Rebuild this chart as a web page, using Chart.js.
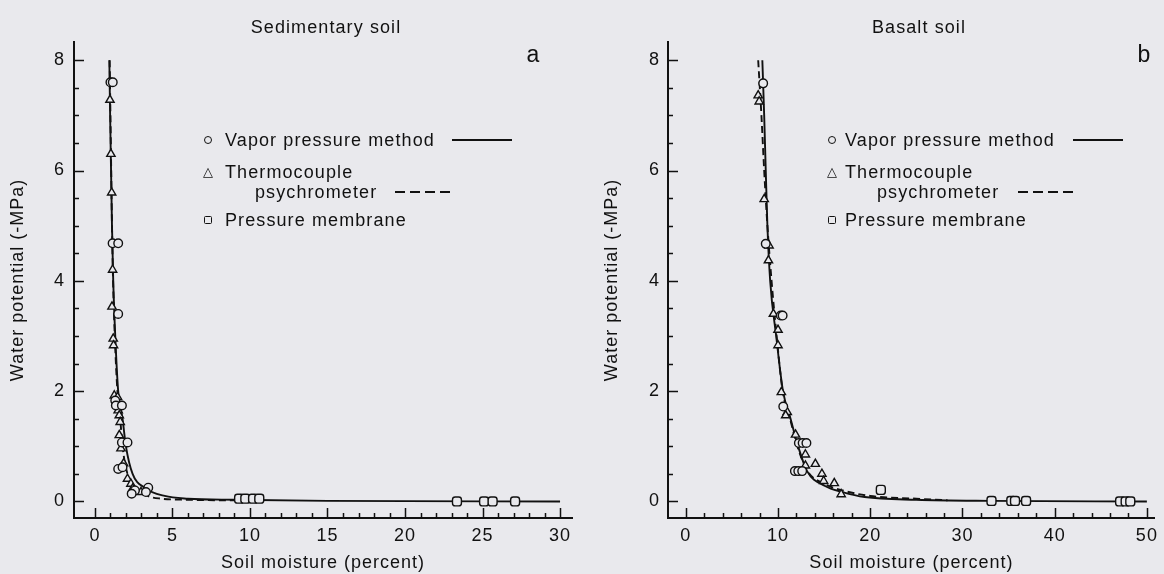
<!DOCTYPE html>
<html>
<head>
<meta charset="utf-8">
<script src="https://cdn.jsdelivr.net/npm/chart.js@4"></script>
<style>
  html, body { margin: 0; padding: 0; background: #e9e9ed; }
  #wrap { position: relative; width: 1164px; height: 574px; overflow: hidden; font-family: "Liberation Sans", Arial, sans-serif; color: #111; }
  canvas { position: absolute; top: 0; }
  .t { position: absolute; white-space: nowrap; letter-spacing: 1.1px; font-size: 18px; line-height: 1; transform: translateY(-50%); }
  .c { transform: translate(-50%, -50%); }
  .panel { font-size: 23px; letter-spacing: 0; }
  .sym { position: absolute; transform: translate(-50%, -50%); box-sizing: border-box; }
  .circ { width: 8px; height: 8px; border: 1.5px solid #111; border-radius: 50%; }
  .sq { width: 8px; height: 8px; border: 1.5px solid #111; border-radius: 1.5px; }
  .tri { font-family: "DejaVu Sans"; font-size: 13px; line-height: 1; }
  .ln { position: absolute; height: 2px; background: #111; transform: translateY(-50%); }
  .dash { background: repeating-linear-gradient(to right, #111 0 10px, transparent 10px 15px); }
</style>
</head>
<body>
<div id="wrap">
  <canvas id="sed" width="582" height="574" style="left:0"></canvas>
  <canvas id="bas" width="582" height="574" style="left:582px"></canvas>

  <div class="t c" style="left:326px; top:27px">Sedimentary soil</div>
  <div class="t c panel" style="left:533px; top:54px">a</div>
  <div class="t c" style="left:919px; top:27px">Basalt soil</div>
  <div class="t c panel" style="left:1144px; top:54px">b</div>

  <div class="sym circ" style="left:208px; top:140px"></div>
  <div class="t" style="left:225px; top:140px">Vapor pressure method</div>
  <div class="ln" style="left:452px; width:60px; top:140px"></div>
  <div class="sym tri" style="left:208px; top:171px">△</div>
  <div class="t" style="left:225px; top:172px">Thermocouple</div>
  <div class="t" style="left:255px; top:192px">psychrometer</div>
  <div class="ln dash" style="left:395px; width:55px; top:192px"></div>
  <div class="sym sq" style="left:208px; top:220px"></div>
  <div class="t" style="left:225px; top:220px">Pressure membrane</div>

  <div class="sym circ" style="left:832px; top:140px"></div>
  <div class="t" style="left:845px; top:140px">Vapor pressure method</div>
  <div class="ln" style="left:1073px; width:50px; top:140px"></div>
  <div class="sym tri" style="left:832px; top:171px">△</div>
  <div class="t" style="left:845px; top:172px">Thermocouple</div>
  <div class="t" style="left:877px; top:192px">psychrometer</div>
  <div class="ln dash" style="left:1018px; width:55px; top:192px"></div>
  <div class="sym sq" style="left:832px; top:220px"></div>
  <div class="t" style="left:845px; top:220px">Pressure membrane</div>
</div>

<script>
const INK = '#111';
const BG = '#e9e9ed';
const FONT = '"Liberation Sans", Arial, sans-serif';

// Tick labels
const yTicks = [0, 2, 4, 6, 8];
const sedXTicks = [0, 5, 10, 15, 20, 25, 30];
const basXTicks = [0, 10, 20, 30, 40, 50];

// Panel a - sedimentary soil
const sedVaporX = [1.0, 1.15, 1.14, 1.5, 1.5, 1.31, 1.35, 1.74, 1.74, 2.1, 1.5, 1.78, 2.58, 2.37, 3.44, 3.29];
const sedVaporY = [7.6, 7.6, 4.68, 4.68, 3.4, 1.83, 1.74, 1.74, 1.07, 1.07, 0.59, 0.62, 0.2, 0.14, 0.25, 0.17];
const sedThermoX = [0.97, 1.03, 1.08, 1.14, 1.1, 1.18, 1.2, 1.25, 1.46, 1.5, 1.57, 1.63, 1.57, 1.68, 1.85, 2.1, 2.32, 2.43, 2.97];
const sedThermoY = [7.28, 6.3, 5.6, 4.2, 3.53, 2.95, 2.83, 1.92, 1.89, 1.65, 1.56, 1.44, 1.2, 0.96, 0.69, 0.41, 0.32, 0.23, 0.17];
const sedMembraneX = [9.3, 9.7, 10.2, 10.6, 23.35, 25.1, 25.65, 27.1];
const sedMembraneY = [0.05, 0.05, 0.05, 0.05, 0.0, 0.0, 0.0, 0.0];
const sedVaporCurveX = [0.93, 0.98, 1.04, 1.1, 1.18, 1.31, 1.5, 1.78, 2.0, 2.43, 3.2, 4.5, 6, 9, 15, 30];
const sedVaporCurveY = [8.0, 7.0, 6.0, 5.0, 4.0, 3.0, 2.0, 1.5, 1.0, 0.5, 0.25, 0.1, 0.05, 0.03, 0.01, 0.0];
const sedThermoCurveX = [0.95, 1.0, 1.05, 1.1, 1.17, 1.28, 1.45, 1.63, 1.78, 2.1, 2.65, 3.4, 4.3, 6, 9];
const sedThermoCurveY = [8.0, 7.0, 6.0, 5.0, 4.0, 3.0, 2.0, 1.5, 1.0, 0.5, 0.25, 0.1, 0.05, 0.03, 0.02];

// Panel b - basalt soil
const basVaporX = [8.39, 8.67, 10.3, 10.5, 10.57, 12.26, 12.67, 13.08, 11.83, 12.2, 12.62];
const basVaporY = [7.58, 4.67, 3.37, 3.37, 1.72, 1.06, 1.06, 1.06, 0.55, 0.55, 0.55];
const basThermoX = [7.85, 7.96, 8.5, 9.03, 8.96, 9.5, 10.0, 10.0, 10.36, 11.0, 10.83, 11.9, 12.97, 12.97, 14.05, 14.76, 14.95, 16.1, 16.85];
const basThermoY = [7.36, 7.25, 5.48, 4.64, 4.37, 3.4, 3.11, 2.83, 1.98, 1.62, 1.56, 1.21, 0.85, 0.65, 0.68, 0.5, 0.37, 0.33, 0.13];
const basMembraneX = [21.15, 33.15, 35.3, 35.7, 36.9, 47.1, 47.7, 48.2];
const basMembraneY = [0.21, 0.01, 0.01, 0.01, 0.01, 0.0, 0.0, 0.0];
const basVaporCurveX = [8.3, 8.5, 8.67, 8.85, 9.15, 9.8, 10.54, 11.36, 12.18, 13.15, 15.1, 17, 19.4, 25, 33, 50];
const basVaporCurveY = [8.0, 7.0, 6.0, 5.0, 4.0, 3.0, 2.0, 1.5, 1.0, 0.55, 0.28, 0.17, 0.08, 0.03, 0.01, 0.0];
const basThermoCurveX = [7.85, 8.2, 8.5, 8.85, 9.3, 9.85, 10.5, 11.3, 12.1, 13.2, 15, 17, 20, 25, 28.4];
const basThermoCurveY = [8.0, 7.0, 6.0, 5.0, 4.0, 3.0, 2.0, 1.5, 1.0, 0.55, 0.32, 0.2, 0.1, 0.05, 0.02];

const pts = (xs, ys) => xs.map((x, i) => ({ x, y: ys[i] }));

// Ticks in the original point into the plot area, so draw them ourselves
const inwardTicks = {
  id: 'inwardTicks',
  afterDraw(chart, args, opts) {
    const { ctx, chartArea: a, scales: { x, y } } = chart;
    ctx.save();
    ctx.strokeStyle = INK;
    ctx.lineWidth = 1.5;
    ctx.beginPath();
    for (let v = 0; v <= opts.xEnd + 1e-6; v += opts.xMinor) {
      const px = Math.round(x.getPixelForValue(v)) + 0.5;
      const major = opts.xMajor.some(m => Math.abs(m - v) < 1e-6);
      ctx.moveTo(px, a.bottom);
      ctx.lineTo(px, a.bottom - (major ? 10 : 5));
    }
    for (let v = 0; v <= 8 + 1e-6; v += 0.5) {
      const py = Math.round(y.getPixelForValue(v)) + 0.5;
      const major = yTicks.some(m => Math.abs(m - v) < 1e-6);
      ctx.moveTo(a.left, py);
      ctx.lineTo(a.left + (major ? 10 : 5), py);
    }
    ctx.stroke();
    ctx.restore();
  }
};

const spacing = {
  id: 'spacing',
  beforeDraw(chart) { chart.ctx.letterSpacing = '1px'; }
};

function makePanel(id, p) {
  const curve = (data, dash, order) => ({
    data, showLine: true, borderColor: INK, borderWidth: 1.9, borderDash: dash,
    pointRadius: 0, cubicInterpolationMode: 'monotone', order
  });
  const marks = (data, style, r) => ({
    data, showLine: false, pointStyle: style, pointRadius: r,
    borderColor: INK, backgroundColor: BG, pointBorderWidth: 1.4, order: 1
  });
  const axisFont = { family: FONT, size: 18 };
  new Chart(document.getElementById(id), {
    type: 'scatter',
    data: {
      datasets: [
        curve(pts(p.vaporCurveX, p.vaporCurveY), [], 3),
        curve(pts(p.thermoCurveX, p.thermoCurveY), [7, 4], 2),
        marks(pts(p.vaporX, p.vaporY), 'circle', 4.3),
        marks(pts(p.thermoX, p.thermoY), 'triangle', 4.8),
        marks(pts(p.membraneX, p.membraneY), 'rectRounded', 5.2)
      ]
    },
    options: {
      responsive: false,
      animation: false,
      events: [],
      layout: { padding: { top: 42, right: p.padRight, left: 0, bottom: 0 } },
      plugins: {
        legend: { display: false },
        tooltip: { enabled: false },
        inwardTicks: { xMinor: p.xMinor, xMajor: p.xTicks, xEnd: p.xTicks[p.xTicks.length - 1] }
      },
      scales: {
        x: {
          type: 'linear', min: p.xMin, max: p.xMax,
          afterBuildTicks: s => { s.ticks = p.xTicks.map(v => ({ value: v })); },
          afterFit: s => { s.height = 56; },
          grid: { drawOnChartArea: false, drawTicks: false },
          border: { color: INK, width: 2 },
          ticks: { color: INK, font: axisFont, padding: 7, maxRotation: 0, autoSkip: false },
          title: { display: true, text: 'Soil moisture (percent)', color: INK, font: axisFont, padding: { top: 0, bottom: 0 } }
        },
        y: {
          type: 'linear', min: -0.3, max: 8.33,
          afterBuildTicks: s => { s.ticks = yTicks.map(v => ({ value: v })); },
          afterFit: s => { s.width = p.yWidth; },
          grid: { drawOnChartArea: false, drawTicks: false },
          border: { color: INK, width: 2 },
          ticks: { color: INK, font: axisFont, padding: p.yPad },
          title: { display: true, text: 'Water potential (-MPa)', color: INK, font: axisFont, padding: { top: p.yTitlePad, bottom: 0 } }
        }
      }
    },
    plugins: [inwardTicks, spacing]
  });
}

document.addEventListener('DOMContentLoaded', () => {
  makePanel('sed', {
    vaporX: sedVaporX, vaporY: sedVaporY,
    thermoX: sedThermoX, thermoY: sedThermoY,
    membraneX: sedMembraneX, membraneY: sedMembraneY,
    vaporCurveX: sedVaporCurveX, vaporCurveY: sedVaporCurveY,
    thermoCurveX: sedThermoCurveX, thermoCurveY: sedThermoCurveY,
    xTicks: sedXTicks, xMinor: 1, xMin: -1.35, xMax: 30.77,
    yWidth: 74, yPad: 9, yTitlePad: 7, padRight: 10
  });
  makePanel('bas', {
    vaporX: basVaporX, vaporY: basVaporY,
    thermoX: basThermoX, thermoY: basThermoY,
    membraneX: basMembraneX, membraneY: basMembraneY,
    vaporCurveX: basVaporCurveX, vaporCurveY: basVaporCurveY,
    thermoCurveX: basThermoCurveX, thermoCurveY: basThermoCurveY,
    xTicks: basXTicks, xMinor: 2, xMin: -1.93, xMax: 50.86,
    yWidth: 86, yPad: 8, yTitlePad: 19, padRight: 4
  });
});
</script>
</body>
</html>
